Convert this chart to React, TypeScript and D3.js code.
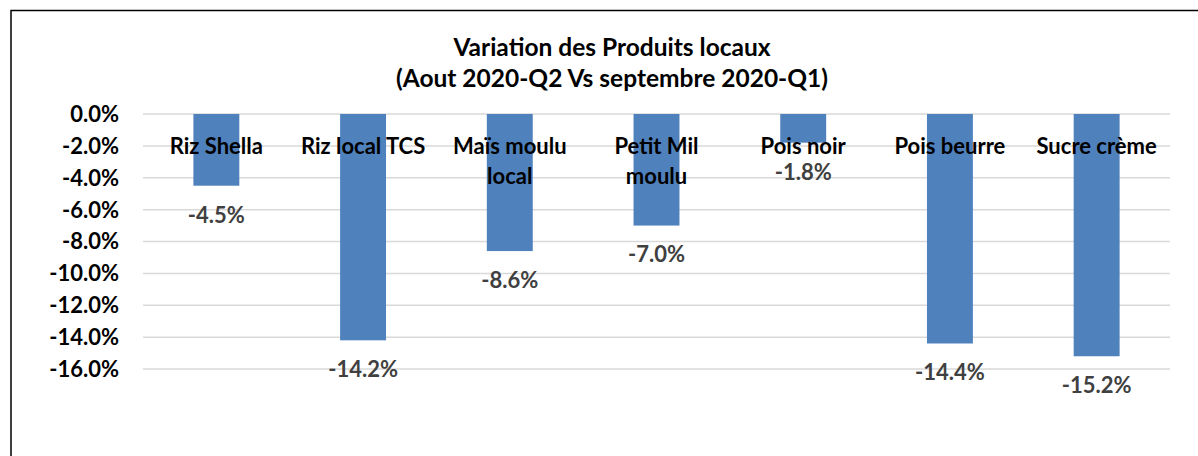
import { useEffect, useRef } from 'react';
import * as d3 from 'd3';

// Category names (line breaks as shown in the chart)
const categories: string[][] = [
  ['Riz Shella'],
  ['Riz local TCS'],
  ['Maïs moulu', 'local'],
  ['Petit Mil', 'moulu'],
  ['Pois noir'],
  ['Pois beurre'],
  ['Sucre crème'],
];

// Variation in percent
const variation: number[] = [-4.5, -14.2, -8.6, -7.0, -1.8, -14.4, -15.2];

// Y axis ticks
const yTicks: number[] = [0, -2, -4, -6, -8, -10, -12, -14, -16];

const titleLines: string[] = [
  'Variation des Produits locaux',
  '(Aout 2020-Q2 Vs septembre 2020-Q1)',
];

const WIDTH = 1198;
const HEIGHT = 456;
const FONT = 'Lato, "Open Sans", sans-serif';

const BarChart: React.FC = () => {
  const chartRef = useRef<SVGSVGElement | null>(null);

  useEffect(() => {
    if (!chartRef.current) return;
    const svg = d3.select(chartRef.current);
    svg.selectAll('*').remove();

    const margin = { top: 114, right: 28, bottom: 87, left: 143 };

    // Background and outer frame
    svg.append('rect')
      .attr('width', WIDTH)
      .attr('height', HEIGHT)
      .attr('fill', '#ffffff');
    svg.append('rect')
      .attr('x', 11)
      .attr('y', 10.5)
      .attr('width', WIDTH + 20)
      .attr('height', HEIGHT + 20)
      .attr('fill', 'none')
      .attr('stroke', '#000000')
      .attr('stroke-width', 1.5);

    const x = d3.scaleBand<number>()
      .domain(d3.range(categories.length))
      .range([margin.left, WIDTH - margin.right])
      .paddingInner(0.687)
      .paddingOuter(0.3435);

    const y = d3.scaleLinear()
      .domain([0, -16])
      .range([margin.top, HEIGHT - margin.bottom]);

    // Gridlines
    svg.append('g')
      .selectAll('line')
      .data(yTicks)
      .enter()
      .append('line')
      .attr('x1', margin.left)
      .attr('x2', WIDTH - margin.right)
      .attr('y1', d => y(d))
      .attr('y2', d => y(d))
      .attr('stroke', '#d9d9d9')
      .attr('stroke-width', 1.5);

    // Y tick labels
    svg.append('g')
      .selectAll('text')
      .data(yTicks)
      .enter()
      .append('text')
      .attr('x', 119)
      .attr('y', d => y(d))
      .attr('dy', '0.36em')
      .attr('text-anchor', 'end')
      .style('font-family', FONT)
      .style('font-weight', 'bold')
      .style('font-size', '22px')
      .attr('fill', '#000000')
      .text(d => `${d.toFixed(1)}%`);

    // Bars
    svg.append('g')
      .selectAll('rect')
      .data(variation)
      .enter()
      .append('rect')
      .attr('x', (_, i) => x(i) || 0)
      .attr('y', y(0))
      .attr('width', x.bandwidth())
      .attr('height', d => y(d) - y(0))
      .attr('fill', '#4f81bd');

    // Category labels sit on top of the bars, near the -2% line
    const labels = svg.append('g');
    categories.forEach((lines, i) => {
      const cx = (x(i) || 0) + x.bandwidth() / 2;
      lines.forEach((line, j) => {
        labels.append('text')
          .attr('x', cx)
          .attr('y', y(-2) + j * 30)
          .attr('dy', '0.36em')
          .attr('text-anchor', 'middle')
          .style('font-family', FONT)
          .style('font-weight', 'bold')
          .style('font-size', '22px')
          .attr('fill', '#000000')
          .text(line);
      });
    });

    // Value labels below bar ends
    svg.append('g')
      .selectAll('text')
      .data(variation)
      .enter()
      .append('text')
      .attr('x', (_, i) => (x(i) || 0) + x.bandwidth() / 2)
      .attr('y', d => y(d) + 29)
      .attr('dy', '0.36em')
      .attr('text-anchor', 'middle')
      .style('font-family', FONT)
      .style('font-weight', 'bold')
      .style('font-size', '22px')
      .attr('fill', '#404040')
      .text(d => `${d.toFixed(1)}%`);

    // Title
    titleLines.forEach((line, i) => {
      svg.append('text')
        .attr('x', 612)
        .attr('y', 47 + i * 31)
        .attr('dy', '0.36em')
        .attr('text-anchor', 'middle')
        .style('font-family', FONT)
        .style('font-weight', 'bold')
        .style('font-size', '24.5px')
        .attr('fill', '#000000')
        .text(line);
    });

    return () => {
      svg.selectAll('*').remove();
    };
  }, []);

  return <svg ref={chartRef} width={WIDTH} height={HEIGHT} style={{ display: 'block' }}></svg>;
};

export default function App() {
  return (
    <div style={{ position: 'absolute', left: 0, top: 0 }}>
      <BarChart />
    </div>
  );
}
